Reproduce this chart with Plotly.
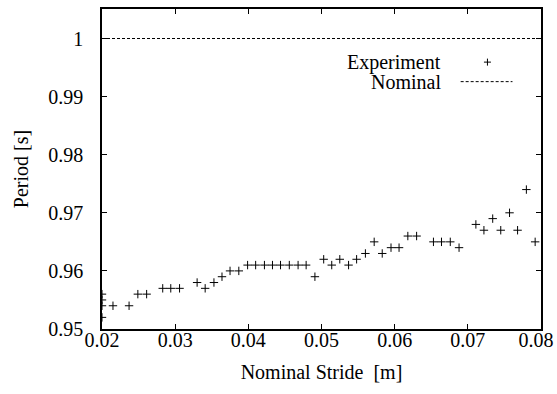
import plotly.graph_objects as go

# Measured gait period against nominal stride length
stride = [0.0200, 0.0200, 0.0200, 0.0200, 0.0215, 0.0237, 0.0249, 0.0261,
          0.0283, 0.0294, 0.0306, 0.0330, 0.0341, 0.0353, 0.0364, 0.0375,
          0.0387, 0.0399, 0.0410, 0.0422, 0.0433, 0.0444, 0.0456, 0.0468,
          0.0479, 0.0491, 0.0503, 0.0514, 0.0525, 0.0537, 0.0548, 0.0560,
          0.0572, 0.0583, 0.0595, 0.0606, 0.0618, 0.0630, 0.0653, 0.0664,
          0.0676, 0.0688, 0.0711, 0.0722, 0.0734, 0.0745, 0.0757, 0.0768,
          0.0780, 0.0792]
period = [0.956, 0.955, 0.954, 0.952, 0.954, 0.954, 0.956, 0.956,
          0.957, 0.957, 0.957, 0.958, 0.957, 0.958, 0.959, 0.960,
          0.960, 0.961, 0.961, 0.961, 0.961, 0.961, 0.961, 0.961,
          0.961, 0.959, 0.962, 0.961, 0.962, 0.961, 0.962, 0.963,
          0.965, 0.963, 0.964, 0.964, 0.966, 0.966, 0.965, 0.965,
          0.965, 0.964, 0.968, 0.967, 0.969, 0.967, 0.970, 0.967,
          0.974, 0.965]

nominal_x = [0.02, 0.08]
nominal_y = [1.0, 1.0]

x_ticks = [0.02, 0.03, 0.04, 0.05, 0.06, 0.07, 0.08]
y_ticks = [0.95, 0.96, 0.97, 0.98, 0.99, 1.0]
y_tick_text = ["0.95", "0.96", "0.97", "0.98", "0.99", "1"]

FONT = "Times New Roman"
FS = 20

# x tick labels; the last one is nudged left so it stays inside the page
x_tick_text = [f"{v:.2f}" for v in x_ticks]
x_tick_text[-1] = x_tick_text[-1] + "\u00a0\u00a0"

fig = go.Figure()

fig.add_trace(go.Scatter(
    x=stride, y=period, mode="markers", name="Experiment",
    marker=dict(symbol="cross-thin", size=6, line=dict(color="black", width=1)),
    showlegend=False,
))
fig.add_trace(go.Scatter(
    x=nominal_x, y=nominal_y, mode="lines", name="Nominal",
    line=dict(color="black", width=1, dash="3px,2px"),
    showlegend=False,
))

# Legend keys on an overlay axis spanning the plot area (0..1 both ways)
fig.add_trace(go.Scatter(
    x=[0.878], y=[0.834], mode="markers", xaxis="x2", yaxis="y2",
    marker=dict(symbol="cross-thin", size=5, line=dict(color="black", width=1)),
    showlegend=False, hoverinfo="skip",
))
fig.add_trace(go.Scatter(
    x=[0.817, 0.935], y=[0.773, 0.773], mode="lines", xaxis="x2", yaxis="y2",
    line=dict(color="black", width=1, dash="3px,2px"),
    showlegend=False, hoverinfo="skip",
))
fig.add_annotation(x=0.776, y=0.834, xref="x2", yref="y2", text="Experiment",
                   showarrow=False, xanchor="right", yanchor="middle",
                   font=dict(family=FONT, size=FS, color="#000000"))
fig.add_annotation(x=0.776, y=0.773, xref="x2", yref="y2", text="Nominal",
                   showarrow=False, xanchor="right", yanchor="middle",
                   font=dict(family=FONT, size=FS, color="#000000"))

axis_common = dict(
    showline=True, linecolor="black", linewidth=1.5, mirror="ticks",
    ticks="inside", ticklen=5, tickcolor="black", tickwidth=1,
    showgrid=False, zeroline=False, ticklabeloverflow="allow",
    automargin=False,
    tickfont=dict(family=FONT, size=FS, color="#000000"),
)

fig.update_layout(
    width=557, height=394,
    margin=dict(l=101.5, r=15.5, t=9, b=65, autoexpand=False),
    paper_bgcolor="white", plot_bgcolor="white",
    font=dict(family=FONT, size=FS, color="#000000"),
    xaxis=dict(range=[0.02, 0.08], tickvals=x_ticks, ticktext=x_tick_text,
               title=dict(text="Nominal Stride\u00a0\u00a0[m]", standoff=15,
                          font=dict(family=FONT, size=FS, color="#000000")),
               ticklabelstandoff=-8, **axis_common),
    yaxis=dict(range=[0.95, 1.00508], tickvals=y_ticks, ticktext=y_tick_text,
               title=dict(text="Period [s]", standoff=14,
                          font=dict(family=FONT, size=FS, color="#000000")),
               ticklabelstandoff=13, **axis_common),
    xaxis2=dict(range=[0, 1], overlaying="x", visible=False, fixedrange=True),
    yaxis2=dict(range=[0, 1], overlaying="y", visible=False, fixedrange=True),
)

fig.write_html("out.html")
